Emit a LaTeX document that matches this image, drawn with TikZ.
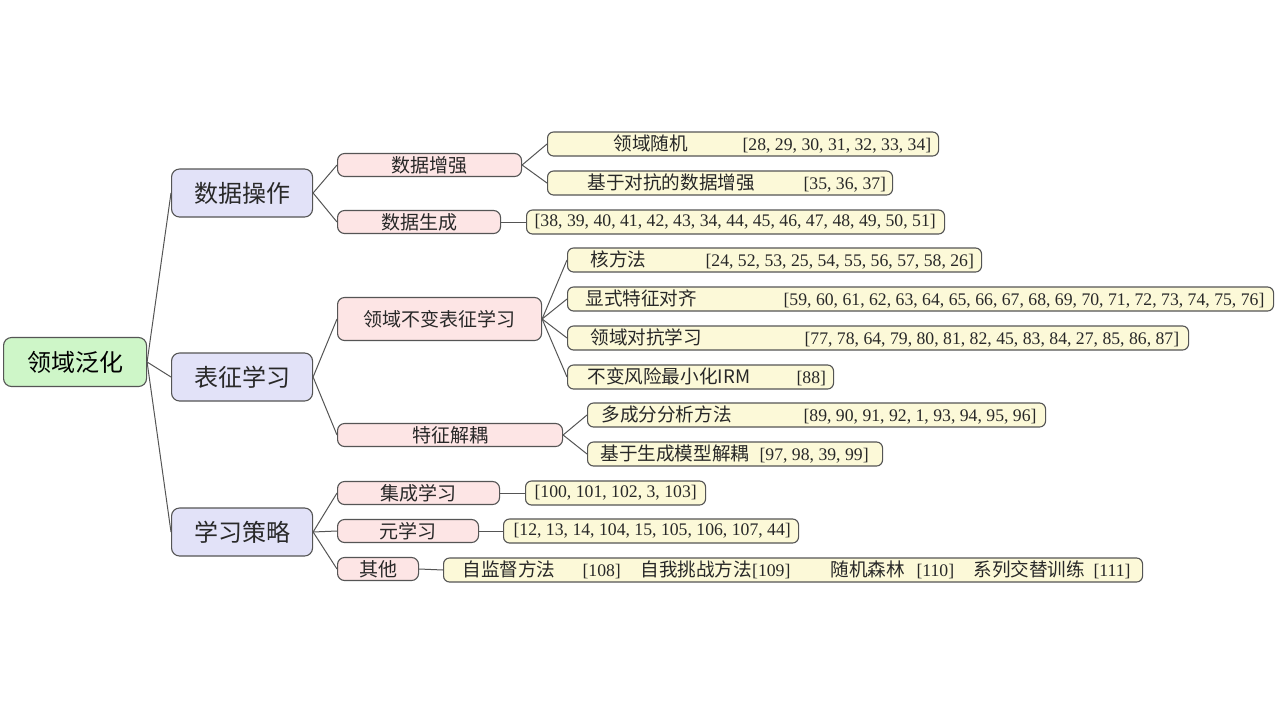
\documentclass[tikz,border=0pt]{standalone}
\usepackage{fontspec}
\setmainfont{Liberation Serif}
\newfontfamily\cjk{Noto Sans CJK SC}

\definecolor{rootfill}{RGB}{206,246,200}
\definecolor{catfill}{RGB}{226,226,248}
\definecolor{subfill}{RGB}{253,229,229}
\definecolor{leaffill}{RGB}{252,249,216}
\definecolor{edgegray}{RGB}{85,85,85}
\definecolor{inkgray}{RGB}{40,40,40}

% Chinese label inside a leaf
\newcommand{\lcjk}{\cjk\fontsize{18.6}{19}\selectfont}
% leaf text: box width, label offset, label width, label, refs
\newcommand{\leaf}[5]{\makebox[#1pt][l]{\hspace*{#2pt}\makebox[#3pt][l]{\lcjk #4}#5}}

\tikzset{
  box/.style={draw=edgegray, line width=1.1pt, inner sep=0pt, anchor=west, text=inkgray},
  rootbox/.style={box, fill=rootfill, rounded corners=8pt, minimum height=49,
    text=black, font=\cjk\fontsize{24}{24}\selectfont},
  catbox/.style={box, fill=catfill, rounded corners=8pt, minimum width=141, minimum height=48,
    font=\cjk\fontsize{24}{24}\selectfont},
  subbox/.style={box, fill=subfill, rounded corners=7pt, minimum height=23,
    font=\cjk\fontsize{19}{19}\selectfont},
  leafbox/.style={box, fill=leaffill, rounded corners=6pt, minimum height=24,
    font=\fontsize{17.7}{18}\selectfont},
  link/.style={draw=edgegray, line width=1pt}
}

\begin{document}
\begin{tikzpicture}[x=1pt,y=-1pt]
\useasboundingbox[fill=white] (0,0) rectangle (1280,720);

% root and main branches
\node[rootbox, minimum width=143] (root) at (3,362) {领域泛化};
\node[catbox] (data) at (171,193) {数据操作};
\node[catbox] (repr) at (171,377) {表征学习};
\node[catbox] (strat) at (171,532) {学习策略};

% second level
\node[subbox, minimum width=184] (aug) at (337,165) {数据增强};
\node[subbox, minimum width=163] (gen) at (337,222) {数据生成};
\node[subbox, minimum width=204, minimum height=43] (inv) at (337,319) {领域不变表征学习};
\node[subbox, minimum width=225] (dis) at (337,435) {特征解耦};
\node[subbox, minimum width=162] (ens) at (337,493) {集成学习};
\node[subbox, minimum width=141] (meta) at (337,531) {元学习};
\node[subbox, minimum width=81] (other) at (337,569) {其他};

% leaves
\node[leafbox] (rand) at (547,144) {\leaf{391}{66}{129}{领域随机}{[28, 29, 30, 31, 32, 33, 34]}};
\node[leafbox] (advaug) at (547,183) {\leaf{345}{40}{216}{基于对抗的数据增强}{[35, 36, 37]}};
\node[leafbox] (genref) at (526,222) {\leaf{418}{8}{0}{}{[38, 39, 40, 41, 42, 43, 34, 44, 45, 46, 47, 48, 49, 50, 51]}};
\node[leafbox] (kern) at (567,260) {\leaf{414}{23}{115}{核方法}{[24, 52, 53, 25, 54, 55, 56, 57, 58, 26]}};
\node[leafbox] (align) at (567,299) {\leaf{706}{18}{198}{显式特征对齐}{[59, 60, 61, 62, 63, 64, 65, 66, 67, 68, 69, 70, 71, 72, 73, 74, 75, 76]}};
\node[leafbox] (adv) at (567,338) {\leaf{621}{23}{214}{领域对抗学习}{[77, 78, 64, 79, 80, 81, 82, 45, 83, 84, 27, 85, 86, 87]}};
\node[leafbox] (irm) at (567,377) {\leaf{266}{20}{209}{不变风险最小化IRM}{[88]}};
\node[leafbox] (multi) at (587,415) {\leaf{458}{14}{202}{多成分分析方法}{[89, 90, 91, 92, 1, 93, 94, 95, 96]}};
\node[leafbox] (genmod) at (587,454) {\leaf{295}{13}{159}{基于生成模型解耦}{[97, 98, 39, 99]}};
\node[leafbox] (ensref) at (525,493) {\leaf{180}{9}{0}{}{[100, 101, 102, 3, 103]}};
\node[leafbox] (metaref) at (503,531) {\leaf{295}{10}{0}{}{[12, 13, 14, 104, 15, 105, 106, 107, 44]}};
\node[leafbox] (misc) at (443,570) {\makebox[699pt][l]{\hspace*{19pt}%
  \makebox[120pt][l]{\lcjk 自监督方法}\makebox[58pt][l]{[108]}%
  \makebox[190pt][l]{{\lcjk 自我挑战方法}[109]}%
  \makebox[86pt][l]{\lcjk 随机森林}\makebox[57pt][l]{[110]}%
  \makebox[120pt][l]{\lcjk 系列交替训练}[111]}};

% connectors
\foreach \c in {data,repr,strat} \draw[link] (root.east) -- (\c.west);
\foreach \c in {aug,gen} \draw[link] (data.east) -- (\c.west);
\foreach \c in {inv,dis} \draw[link] (repr.east) -- (\c.west);
\foreach \c in {ens,meta,other} \draw[link] (strat.east) -- (\c.west);
\foreach \c in {rand,advaug} \draw[link] (aug.east) -- (\c.west);
\draw[link] (gen.east) -- (genref.west);
\foreach \c in {kern,align,adv,irm} \draw[link] (inv.east) -- (\c.west);
\foreach \c in {multi,genmod} \draw[link] (dis.east) -- (\c.west);
\draw[link] (ens.east) -- (ensref.west);
\draw[link] (meta.east) -- (metaref.west);
\draw[link] (other.east) -- (misc.west);

\end{tikzpicture}
\end{document}
